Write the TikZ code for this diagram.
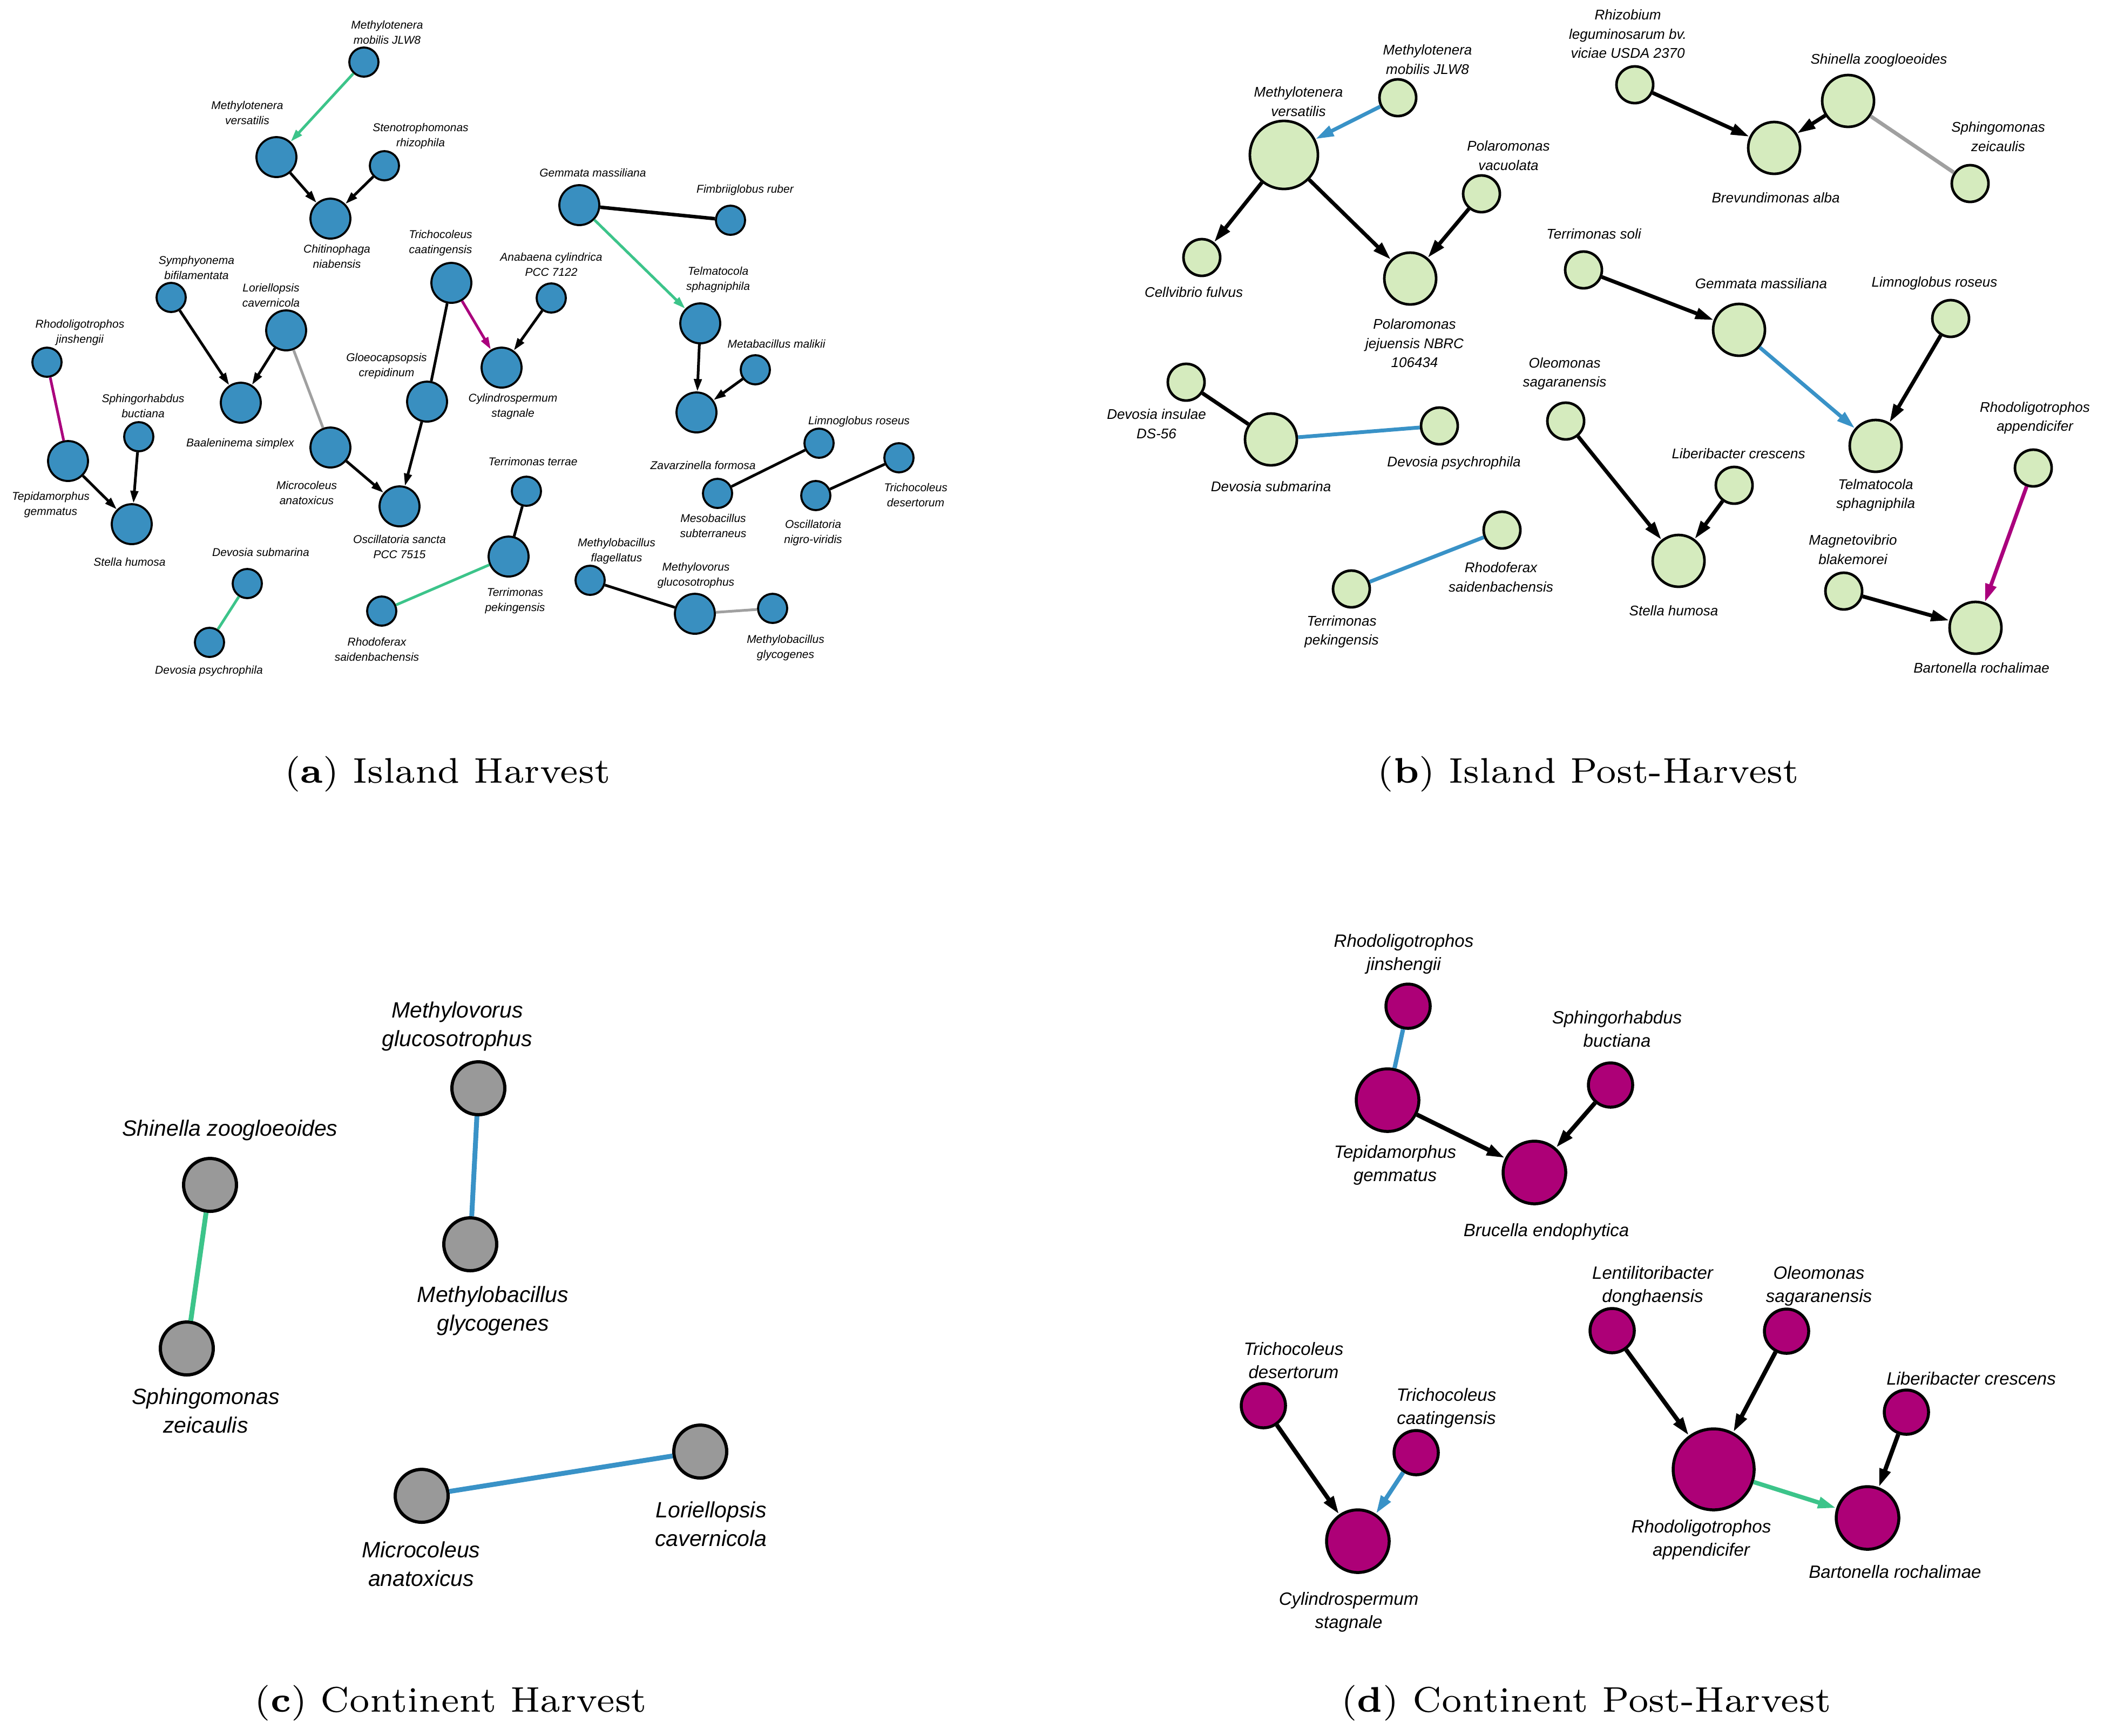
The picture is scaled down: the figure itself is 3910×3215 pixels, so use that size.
\documentclass[tikz,border=0pt]{standalone}
\usepackage{fontspec}
\newfontfamily\labf{Liberation Sans}
\usetikzlibrary{arrows.meta}
\definecolor{ablue}{RGB}{57,143,192}
\definecolor{bgreen}{RGB}{213,235,190}
\definecolor{cgray}{RGB}{153,153,153}
\definecolor{dmag}{RGB}{173,0,119}
\definecolor{egreen}{RGB}{60,196,138}
\definecolor{eblue}{RGB}{57,146,199}
\definecolor{emag}{RGB}{170,0,125}
\definecolor{egray}{RGB}{160,160,160}
\tikzset{
  nd/.style={circle,draw=black,inner sep=0pt},
  nas/.style={nd,fill=ablue,line width=0.38pt,minimum size=5.4pt},
  nal/.style={nd,fill=ablue,line width=0.38pt,minimum size=7.4pt},
  nbs/.style={nd,fill=bgreen,line width=0.48pt,minimum size=6.8pt},
  nbl/.style={nd,fill=bgreen,line width=0.48pt,minimum size=9.6pt},
  nc/.style={nd,fill=cgray,line width=0.6pt,minimum size=9.8pt},
  nds/.style={nd,fill=dmag,line width=0.55pt,minimum size=8.2pt},
  ndl/.style={nd,fill=dmag,line width=0.55pt,minimum size=11.6pt},
  lab/.style={inner sep=0pt,align=center},
  la/.style={lab,font=\labf\itshape\fontsize{2.1pt}{2.8pt}\selectfont},
  lb/.style={lab,font=\labf\itshape\fontsize{2.6pt}{3.55pt}\selectfont},
  lc/.style={lab,font=\labf\itshape\fontsize{4.1pt}{5.3pt}\selectfont},
  ld/.style={lab,font=\labf\itshape\fontsize{3.3pt}{4.3pt}\selectfont},
  ea/.style={line width=0.5pt},
  eb/.style={line width=0.7pt},
  ec/.style={line width=0.9pt},
  ed/.style={line width=0.8pt},
  aha/.style={-{Triangle[length=2.3pt,width=1.4pt]}},
  ahb/.style={-{Triangle[length=3.4pt,width=2.0pt]}},
  capt/.style={inner sep=0pt,font=\rmfamily\fontsize{6.6pt}{8pt}\selectfont},
}
\begin{document}
\begin{tikzpicture}[x=0.1pt,y=-0.1pt]
\useasboundingbox (0,0) rectangle (3910,3215);
% ---------------- panel (a)
\node[nas] (a1) at (674,115) {};
\node[nal] (a2) at (512,291) {};
\node[nas] (a3) at (712,307) {};
\node[nal] (a4) at (612,405) {};
\node[nal] (a5) at (836,524) {};
\node[nas] (a6) at (317,551) {};
\node[nal] (a7) at (530,612) {};
\node[nas] (a8) at (87,671) {};
\node[nal] (a9) at (126,854) {};
\node[nas] (a10) at (257,809) {};
\node[nal] (a11) at (244,971) {};
\node[nal] (a12) at (446,746) {};
\node[nal] (a13) at (612,829) {};
\node[nal] (a14) at (740,938) {};
\node[nal] (a15) at (791,744) {};
\node[nal] (a16) at (929,681) {};
\node[nas] (a17) at (458,1081) {};
\node[nas] (a18) at (388,1190) {};
\node[nas] (a19) at (707,1132) {};
\node[nal] (a20) at (942,1031) {};
\node[nas] (a21) at (975,910) {};
\node[nal] (a22) at (1073,380) {};
\node[nas] (a23) at (1353,408) {};
\node[nas] (a24) at (1021,552) {};
\node[nal] (a25) at (1297,599) {};
\node[nal] (a26) at (1290,764) {};
\node[nas] (a27) at (1399,685) {};
\node[nas] (a28) at (1517,821) {};
\node[nas] (a29) at (1329,914) {};
\node[nas] (a30) at (1511,918) {};
\node[nas] (a31) at (1665,848) {};
\node[nas] (a32) at (1093,1075) {};
\node[nal] (a33) at (1287,1137) {};
\node[nas] (a34) at (1431,1127) {};
\node[la] (l1) at (717,60) {Methylotenera\\mobilis JLW8};
\node[la] (l2) at (458,209) {Methylotenera\\versatilis};
\node[la] (l3) at (779,252) {Stenotrophomonas\\rhizophila};
\node[la] (l4) at (624,475) {Chitinophaga\\niabensis};
\node[la] (l5) at (816,450) {Trichocoleus\\caatingensis};
\node[la] (l6) at (364,496) {Symphyonema\\bifilamentata};
\node[la] (l7) at (502,547) {Loriellopsis\\cavernicola};
\node[la] (l8) at (148,616) {Rhodoligotrophos\\jinshengii};
\node[la] (l9) at (94,935) {Tepidamorphus\\gemmatus};
\node[la] (l10) at (265,752) {Sphingorhabdus\\buctiana};
\node[la] (l11) at (240,1041) {Stella humosa};
\node[la] (l12) at (445,822) {Baaleninema simplex};
\node[la] (l13) at (568,913) {Microcoleus\\anatoxicus};
\node[la] (l14) at (740,1013) {Oscillatoria sancta\\PCC 7515};
\node[la] (l15) at (716,678) {Gloeocapsopsis\\crepidinum};
\node[la] (l16) at (950,753) {Cylindrospermum\\stagnale};
\node[la] (l17) at (483,1023) {Devosia submarina};
\node[la] (l18) at (387,1243) {Devosia psychrophila};
\node[la] (l19) at (698,1203) {Rhodoferax\\saidenbachensis};
\node[la] (l20) at (954,1113) {Terrimonas\\pekingensis};
\node[la] (l21) at (987,855) {Terrimonas terrae};
\node[la] (l22) at (1098,320) {Gemmata massiliana};
\node[la] (l23) at (1380,352) {Fimbriiglobus ruber};
\node[la] (l24) at (1021,490) {Anabaena cylindrica\\PCC 7122};
\node[la] (l25) at (1330,518) {Telmatocola\\sphagniphila};
\node[la] (l26) at (1302,862) {Zavarzinella formosa};
\node[la] (l27) at (1438,637) {Metabacillus malikii};
\node[la] (l28) at (1591,781) {Limnoglobus roseus};
\node[la] (l29) at (1321,974) {Mesobacillus\\subterraneus};
\node[la] (l30) at (1506,987) {Oscillatoria\\nigro-viridis};
\node[la] (l31) at (1696,917) {Trichocoleus\\desertorum};
\node[la] (l32) at (1142,1021) {Methylobacillus\\flagellatus};
\node[la] (l33) at (1289,1066) {Methylovorus\\glucosotrophus};
\node[la] (l34) at (1455,1200) {Methylobacillus\\glycogenes};
\draw[ea,aha,egreen] (a1) -- (a2);
\draw[ea,aha] (a2) -- (a4);
\draw[ea,aha] (a3) -- (a4);
\draw[ea,emag] (a8) -- (a9);
\draw[ea,aha] (a9) -- (a11);
\draw[ea,aha] (a10) -- (a11);
\draw[ea,aha] (a6) -- (a12);
\draw[ea,aha] (a7) -- (a12);
\draw[ea,egray] (a7) -- (a13);
\draw[ea,aha] (a13) -- (a14);
\draw[ea] (a5) -- (a15);
\draw[ea,aha] (a15) -- (a14);
\draw[ea,aha,emag] (a5) -- (a16);
\draw[ea,aha] (a24) -- (a16);
\draw[line width=0.65pt] (a22) -- (a23);
\draw[ea,aha,egreen] (a22) -- (a25);
\draw[ea,aha] (a25) -- (a26);
\draw[ea,aha] (a27) -- (a26);
\draw[ea] (a28) -- (a29);
\draw[ea] (a31) -- (a30);
\draw[ea] (a32) -- (a33);
\draw[ea,egray] (a33) -- (a34);
\draw[ea] (a21) -- (a20);
\draw[ea,egreen] (a19) -- (a20);
\draw[ea,egreen] (a17) -- (a18);
% ---------------- panel (b)
\node[nbs] (b1) at (2589,181) {};
\node[nbl,minimum size=12.6pt] (b2) at (2378,287) {};
\node[nbs] (b3) at (2744,359) {};
\node[nbs] (b4) at (2226,477) {};
\node[nbl] (b5) at (2612,516) {};
\node[nbs] (b6) at (3028,157) {};
\node[nbl] (b7) at (3423,187) {};
\node[nbl] (b8) at (3286,274) {};
\node[nbs] (b9) at (3649,340) {};
\node[nbs] (b10) at (2933,500) {};
\node[nbl] (b11) at (3221,611) {};
\node[nbs] (b12) at (3613,590) {};
\node[nbs] (b13) at (2197,708) {};
\node[nbl] (b14) at (2354,814) {};
\node[nbs] (b15) at (2666,789) {};
\node[nbs] (b16) at (2782,982) {};
\node[nbs] (b17) at (2503,1091) {};
\node[nbs] (b18) at (2900,780) {};
\node[nbl] (b19) at (3474,826) {};
\node[nbs] (b20) at (3212,899) {};
\node[nbl] (b21) at (3109,1039) {};
\node[nbs] (b22) at (3766,867) {};
\node[nbs] (b23) at (3415,1095) {};
\node[nbl] (b24) at (3659,1163) {};
\node[lb] (m1) at (2644,110) {Methylotenera\\mobilis JLW8};
\node[lb] (m2) at (2405,188) {Methylotenera\\versatilis};
\node[lb] (m3) at (2794,288) {Polaromonas\\vacuolata};
\node[lb] (m4) at (2211,541) {Cellvibrio fulvus};
\node[lb] (m5) at (2620,636) {Polaromonas\\jejuensis NBRC\\106434};
\node[lb] (m6) at (3015,63) {Rhizobium\\leguminosarum bv.\\viciae USDA 2370};
\node[lb] (m7) at (3480,112) {Shinella zoogloeoides};
\node[lb] (m8) at (3289,366) {Brevundimonas alba};
\node[lb] (m9) at (3701,253) {Sphingomonas\\zeicaulis};
\node[lb] (m10) at (2952,433) {Terrimonas soli};
\node[lb] (m11) at (3262,525) {Gemmata massiliana};
\node[lb] (m12) at (3583,525) {Limnoglobus roseus};
\node[lb] (m13) at (2142,785) {Devosia insulae\\DS-56};
\node[lb] (m14) at (2354,901) {Devosia submarina};
\node[lb] (m15) at (2693,858) {Devosia psychrophila};
\node[lb] (m16) at (2780,1069) {Rhodoferax\\saidenbachensis};
\node[lb] (m17) at (2485,1170) {Terrimonas\\pekingensis};
\node[lb] (m18) at (2898,692) {Oleomonas\\sagaranensis};
\node[lb] (m19) at (3474,917) {Telmatocola\\sphagniphila};
\node[lb] (m20) at (3220,840) {Liberibacter crescens};
\node[lb] (m21) at (3100,1131) {Stella humosa};
\node[lb] (m22) at (3769,774) {Rhodoligotrophos\\appendicifer};
\node[lb] (m23) at (3432,1018) {Magnetovibrio\\blakemorei};
\node[lb] (m24) at (3670,1237) {Bartonella rochalimae};
\draw[eb,ahb,eblue] (b1) -- (b2);
\draw[eb,ahb] (b2) -- (b4);
\draw[eb,ahb] (b2) -- (b5);
\draw[eb,ahb] (b3) -- (b5);
\draw[eb,ahb] (b6) -- (b8);
\draw[eb,ahb] (b7) -- (b8);
\draw[eb,egray] (b7) -- (b9);
\draw[eb,ahb] (b10) -- (b11);
\draw[eb,ahb,eblue] (b11) -- (b19);
\draw[eb,ahb] (b12) -- (b19);
\draw[eb] (b13) -- (b14);
\draw[eb,eblue] (b14) -- (b15);
\draw[eb,eblue] (b16) -- (b17);
\draw[eb,ahb] (b18) -- (b21);
\draw[eb,ahb] (b20) -- (b21);
\draw[eb,ahb,emag] (b22) -- (b24);
\draw[eb,ahb] (b23) -- (b24);
% ---------------- panel (c)
\node[nc] (c1) at (886,2016) {};
\node[nc] (c2) at (871,2305) {};
\node[nc] (c3) at (389,2195) {};
\node[nc] (c4) at (346,2498) {};
\node[nc] (c5) at (781,2771) {};
\node[nc] (c6) at (1297,2689) {};
\node[lc] (k1) at (847,1901) {Methylovorus\\glucosotrophus};
\node[lc] (k2) at (913,2428) {Methylobacillus\\glycogenes};
\node[lc] (k3) at (426,2094) {Shinella zoogloeoides};
\node[lc] (k4) at (381,2613) {Sphingomonas\\zeicaulis};
\node[lc] (k5) at (780,2897) {Microcoleus\\anatoxicus};
\node[lc] (k6) at (1317,2823) {Loriellopsis\\cavernicola};
\draw[ec,eblue] (c1) -- (c2);
\draw[ec,egreen] (c3) -- (c4);
\draw[ec,eblue] (c5) -- (c6);
% ---------------- panel (d)
\node[nds] (d1) at (2608,1864) {};
\node[ndl] (d2) at (2570,2038) {};
\node[nds] (d3) at (2983,2010) {};
\node[ndl] (d4) at (2842,2172) {};
\node[nds] (d5) at (2340,2604) {};
\node[nds] (d6) at (2623,2691) {};
\node[ndl] (d7) at (2515,2855) {};
\node[nds] (d8) at (2986,2465) {};
\node[nds] (d9) at (3309,2466) {};
\node[ndl,minimum size=15pt] (d10) at (3174,2722) {};
\node[nds] (d11) at (3531,2616) {};
\node[ndl] (d12) at (3459,2812) {};
\node[ld] (n1) at (2600,1767) {Rhodoligotrophos\\jinshengii};
\node[ld] (n2) at (2584,2158) {Tepidamorphus\\gemmatus};
\node[ld] (n3) at (2995,1906) {Sphingorhabdus\\buctiana};
\node[ld] (n4) at (2864,2282) {Brucella endophytica};
\node[ld] (n5) at (2396,2520) {Trichocoleus\\desertorum};
\node[ld] (n6) at (2679,2608) {Trichocoleus\\caatingensis};
\node[ld] (n7) at (2498,2986) {Cylindrospermum\\stagnale};
\node[ld] (n8) at (3061,2382) {Lentilitoribacter\\donghaensis};
\node[ld] (n9) at (3369,2382) {Oleomonas\\sagaranensis};
\node[ld] (n10) at (3151,2852) {Rhodoligotrophos\\appendicifer};
\node[ld] (n11) at (3651,2554) {Liberibacter crescens};
\node[ld] (n12) at (3510,2912) {Bartonella rochalimae};
\draw[ed,eblue] (d1) -- (d2);
\draw[ed,ahb] (d2) -- (d4);
\draw[ed,ahb] (d3) -- (d4);
\draw[ed,ahb] (d5) -- (d7);
\draw[ed,ahb,eblue] (d6) -- (d7);
\draw[ed,ahb] (d8) -- (d10);
\draw[ed,ahb] (d9) -- (d10);
\draw[ed,ahb] (d11) -- (d12);
\draw[ed,ahb,egreen] (d10) -- (d12);
% ---------------- captions
\node[capt] (capa) at (829,1434) {(\textbf{a}) Island Harvest};
\node[capt] (capb) at (2942,1434) {(\textbf{b}) Island Post-Harvest};
\node[capt] (capc) at (835,3155) {(\textbf{c}) Continent Harvest};
\node[capt] (capd) at (2938,3155) {(\textbf{d}) Continent Post-Harvest};
\end{tikzpicture}
\end{document}
